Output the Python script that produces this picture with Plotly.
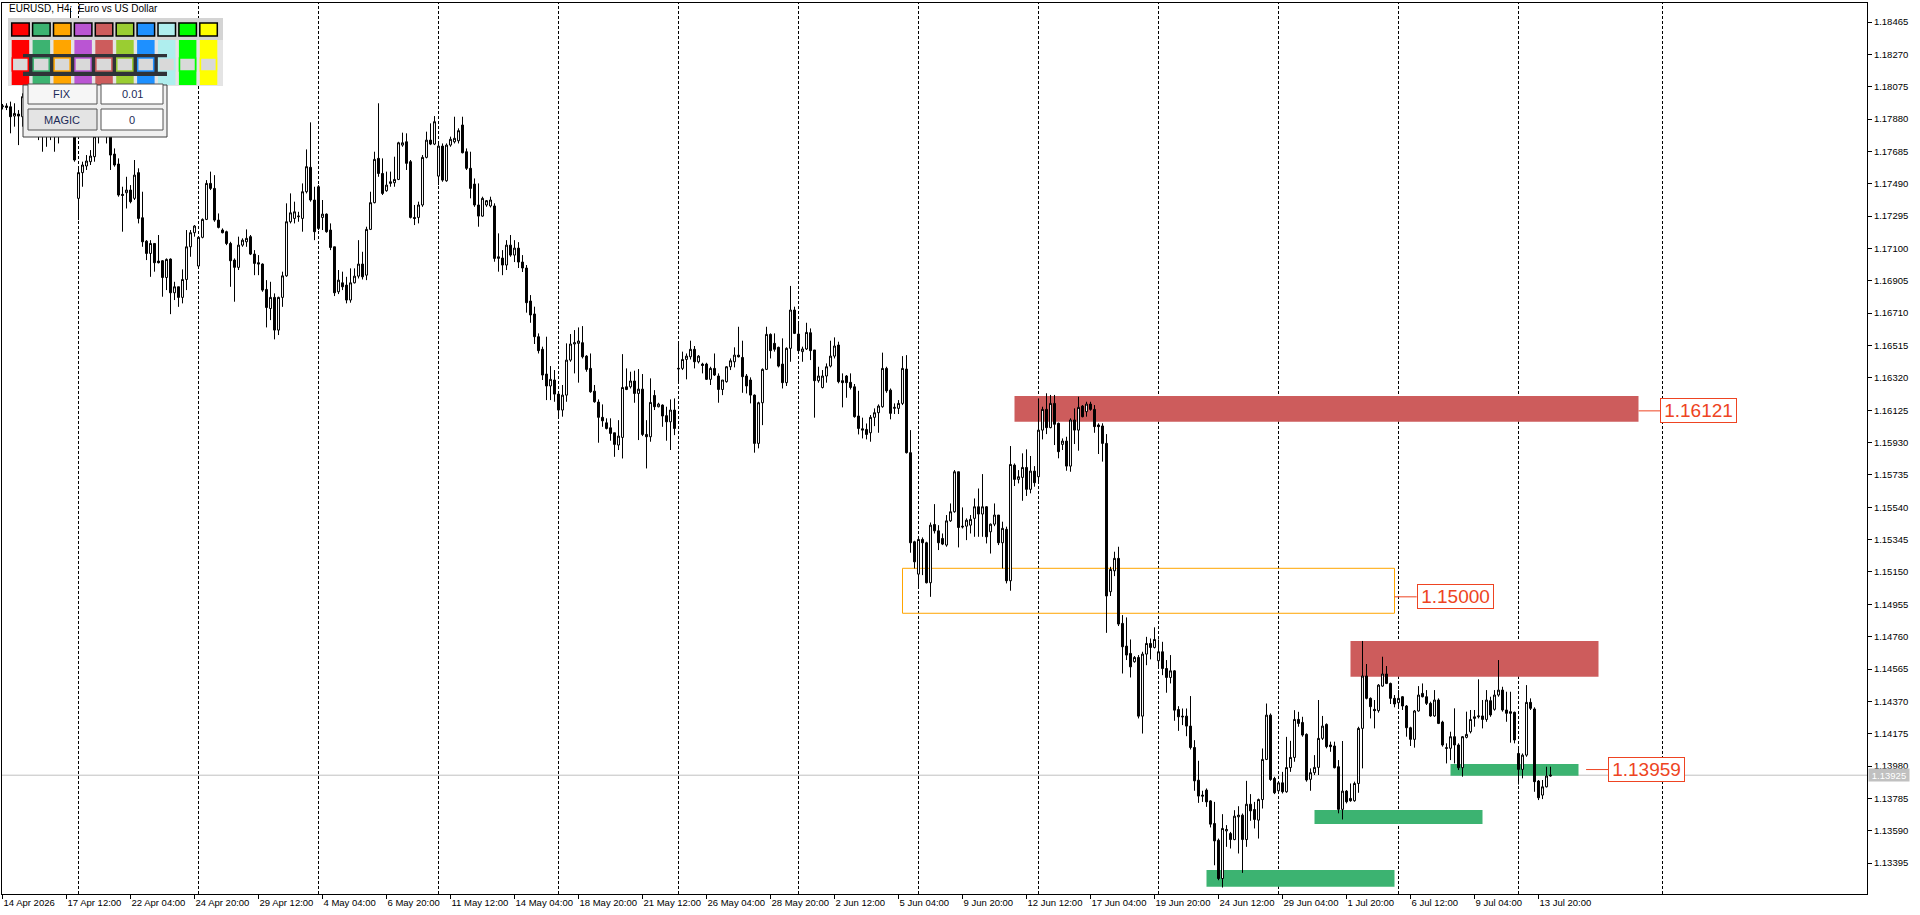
import plotly.graph_objects as go

# ---------------- data (EURUSD H4) ----------------
opens = [
 1.17954,1.17959,1.17954,1.17898,1.17910,1.17894,1.18015,1.18055,1.17954,1.17995,
 1.17874,1.17814,1.17934,1.18015,1.17854,1.17995,1.18115,1.18296,1.18417,1.17402,
 1.17557,1.17597,1.17623,1.17653,1.17774,1.17834,1.17864,1.17774,1.17669,1.17609,
 1.17426,1.17436,1.17452,1.17402,1.17557,1.17285,1.17144,1.17070,1.17130,1.17024,
 1.17026,1.16925,1.17036,1.16833,1.16869,1.16805,1.16913,1.17110,1.17195,1.16994,
 1.17167,1.17275,1.17492,1.17462,1.17271,1.17211,1.17201,1.17130,1.17030,1.16986,
 1.17120,1.17140,1.17171,1.17066,1.17014,1.17006,1.16853,1.16738,1.16805,1.16608,
 1.16805,1.16935,1.17261,1.17281,1.17291,1.17281,1.17442,1.17589,1.17392,1.17472,
 1.17287,1.17307,1.17211,1.17110,1.16839,1.16893,1.16879,1.16789,1.16893,1.16933,
 1.17006,1.16939,1.17215,1.17376,1.17643,1.17552,1.17448,1.17492,1.17496,1.17516,
 1.17723,1.17743,1.17623,1.17287,1.17287,1.17362,1.17649,1.17753,1.17729,1.17536,
 1.17717,1.17508,1.17723,1.17743,1.17749,1.17844,1.17683,1.17583,1.17488,1.17362,
 1.17295,1.17362,1.17356,1.17356,1.17040,1.17042,1.17000,1.17120,1.17060,1.17102,
 1.17018,1.16982,1.16783,1.16705,1.16568,1.16492,1.16343,1.16271,1.16307,1.16222,
 1.16126,1.16216,1.16427,1.16524,1.16528,1.16532,1.16451,1.16377,1.16240,1.16174,
 1.16082,1.16049,1.16019,1.15989,1.15915,1.15961,1.16266,1.16266,1.16301,1.16226,
 1.16252,1.15979,1.15965,1.16214,1.16146,1.16156,1.16092,1.16055,1.16126,1.16373,
 1.16377,1.16431,1.16447,1.16492,1.16417,1.16403,1.16403,1.16311,1.16377,1.16331,
 1.16250,1.16297,1.16387,1.16417,1.16457,1.16443,1.16331,1.16307,1.16216,1.15925,
 1.16170,1.16371,1.16582,1.16528,1.16504,1.16403,1.16291,1.16498,1.16729,1.16584,
 1.16478,1.16494,1.16592,1.16488,1.16303,1.16262,1.16331,1.16391,1.16451,1.16518,
 1.16303,1.16331,1.16293,1.16266,1.16090,1.16013,1.16009,1.15989,1.16082,1.16110,
 1.16146,1.16377,1.16246,1.16136,1.16136,1.16166,1.16373,1.15869,1.15332,1.15137,
 1.15346,1.15326,1.15085,1.15436,1.15398,1.15352,1.15312,1.15458,1.15513,1.15754,
 1.15426,1.15426,1.15432,1.15473,1.15543,1.15499,1.15543,1.15392,1.15438,1.15493,
 1.15326,1.15407,1.15097,1.15794,1.15708,1.15720,1.15780,1.15648,1.15758,1.15724,
 1.16005,1.16130,1.16020,1.16166,1.16046,1.15919,1.15939,1.15788,1.16066,1.16005,
 1.16150,1.16116,1.16162,1.16130,1.16036,1.16030,1.15925,1.15031,1.15157,1.15232,
 1.14840,1.14703,1.14659,1.14609,1.14635,1.14281,1.14655,1.14719,1.14695,1.14615,
 1.14669,1.14568,1.14514,1.14554,1.14321,1.14281,1.14281,1.14221,1.14092,1.13895,
 1.13805,1.13835,1.13770,1.13634,1.13533,1.13302,1.13589,1.13573,1.13537,1.13674,
 1.13684,1.13537,1.13750,1.13718,1.13654,1.13778,1.14020,1.14287,1.13905,1.13831,
 1.13879,1.13825,1.13971,1.14032,1.14261,1.14243,1.14171,1.13900,1.13940,1.13972,
 1.14147,1.14231,1.14107,1.14101,1.13976,1.13719,1.13829,1.13785,1.13771,1.13875,
 1.14207,1.14523,1.14388,1.14322,1.14314,1.14462,1.14535,1.14478,1.14388,1.14362,
 1.14398,1.14342,1.14211,1.14141,1.14312,1.14418,1.14398,1.14358,1.14282,1.14378,
 1.14245,1.14091,1.14087,1.14157,1.14107,1.13970,1.14153,1.14187,1.14267,1.14277,
 1.14282,1.14261,1.14374,1.14322,1.14408,1.14438,1.14318,1.14308,1.14304,1.14056,
 1.13960,1.14046,1.14364,1.14324,1.13890,1.13805,1.13855,1.13920]

highs = [
 1.17971,1.17975,1.17985,1.17975,1.17934,1.18035,1.18095,1.18135,1.18035,1.18115,
 1.18015,1.17975,1.18095,1.18135,1.18055,1.18176,1.18357,1.18550,1.18457,1.17593,
 1.17623,1.17663,1.17693,1.17794,1.17864,1.17894,1.17884,1.17794,1.17703,1.17643,
 1.17472,1.17532,1.17482,1.17633,1.17583,1.17442,1.17150,1.17150,1.17130,1.17181,
 1.17030,1.17040,1.17040,1.16899,1.16869,1.16974,1.17211,1.17211,1.17241,1.17171,
 1.17281,1.17512,1.17563,1.17542,1.17311,1.17221,1.17207,1.17140,1.17040,1.17171,
 1.17161,1.17215,1.17181,1.17090,1.17060,1.17010,1.16909,1.16899,1.16829,1.16809,
 1.16960,1.17372,1.17432,1.17382,1.17321,1.17492,1.17697,1.17860,1.17472,1.17482,
 1.17392,1.17311,1.17251,1.17110,1.16970,1.16960,1.16929,1.16980,1.16980,1.17150,
 1.17080,1.17231,1.17442,1.17683,1.17975,1.17643,1.17563,1.17563,1.17653,1.17743,
 1.17798,1.17794,1.17633,1.17362,1.17382,1.17663,1.17804,1.17854,1.17898,1.17733,
 1.17733,1.17733,1.17774,1.17894,1.17824,1.17894,1.17703,1.17683,1.17522,1.17492,
 1.17412,1.17392,1.17412,1.17372,1.17191,1.17090,1.17150,1.17181,1.17150,1.17138,
 1.17060,1.17000,1.16819,1.16749,1.16588,1.16508,1.16568,1.16391,1.16367,1.16236,
 1.16277,1.16528,1.16584,1.16608,1.16624,1.16632,1.16457,1.16467,1.16277,1.16190,
 1.16160,1.16076,1.16076,1.15989,1.16065,1.16463,1.16377,1.16357,1.16363,1.16373,
 1.16343,1.16065,1.16317,1.16246,1.16170,1.16160,1.16146,1.16190,1.16196,1.16524,
 1.16478,1.16467,1.16544,1.16512,1.16457,1.16411,1.16411,1.16387,1.16467,1.16347,
 1.16307,1.16391,1.16437,1.16504,1.16628,1.16544,1.16343,1.16323,1.16220,1.16176,
 1.16377,1.16628,1.16588,1.16588,1.16508,1.16558,1.16504,1.16874,1.16749,1.16648,
 1.16508,1.16652,1.16618,1.16488,1.16387,1.16367,1.16407,1.16544,1.16564,1.16538,
 1.16347,1.16337,1.16347,1.16283,1.16242,1.16080,1.16045,1.16096,1.16136,1.16160,
 1.16472,1.16387,1.16256,1.16166,1.16186,1.16451,1.16457,1.16005,1.15338,1.15362,
 1.15358,1.15332,1.15448,1.15559,1.15432,1.15382,1.15493,1.15563,1.15764,1.15754,
 1.15539,1.15473,1.15493,1.15593,1.15653,1.15740,1.15547,1.15442,1.15563,1.15493,
 1.15453,1.15423,1.15909,1.15804,1.15764,1.15865,1.15889,1.15849,1.15788,1.16196,
 1.16146,1.16227,1.16217,1.16217,1.16050,1.15955,1.15965,1.16076,1.16136,1.16206,
 1.16156,1.16176,1.16176,1.16156,1.16046,1.16046,1.15981,1.15181,1.15272,1.15302,
 1.14890,1.14876,1.14743,1.14643,1.14649,1.14669,1.14759,1.14749,1.14816,1.14743,
 1.14729,1.14619,1.14649,1.14558,1.14341,1.14327,1.14327,1.14402,1.14136,1.14012,
 1.13831,1.13845,1.13774,1.13764,1.13543,1.13690,1.13624,1.13583,1.13714,1.13738,
 1.13694,1.13891,1.13811,1.13764,1.13784,1.14086,1.14357,1.14297,1.13915,1.13885,
 1.13945,1.14156,1.14132,1.14317,1.14307,1.14277,1.14177,1.13966,1.14046,1.14378,
 1.14282,1.14237,1.14127,1.14127,1.14016,1.14131,1.13835,1.13875,1.13886,1.14217,
 1.14734,1.14595,1.14394,1.14378,1.14474,1.14639,1.14583,1.14483,1.14408,1.14438,
 1.14402,1.14348,1.14217,1.14318,1.14462,1.14478,1.14438,1.14368,1.14438,1.14388,
 1.14253,1.14117,1.14187,1.14328,1.14117,1.14161,1.14308,1.14318,1.14318,1.14503,
 1.14378,1.14438,1.14398,1.14438,1.14619,1.14458,1.14428,1.14428,1.14308,1.14097,
 1.14056,1.14468,1.14388,1.14334,1.13896,1.13896,1.13976,1.13976]

lows = [
 1.17938,1.17934,1.17794,1.17834,1.17723,1.17834,1.17934,1.17894,1.17814,1.17753,
 1.17683,1.17713,1.17753,1.17683,1.17733,1.17774,1.18015,1.18256,1.17623,1.17271,
 1.17472,1.17573,1.17603,1.17623,1.17733,1.17794,1.17733,1.17573,1.17593,1.17412,
 1.17201,1.17341,1.17372,1.17392,1.17251,1.17110,1.17030,1.16929,1.16960,1.17010,
 1.16809,1.16849,1.16704,1.16789,1.16748,1.16769,1.16849,1.17050,1.17171,1.16980,
 1.17161,1.17271,1.17452,1.17261,1.17221,1.17191,1.17120,1.16869,1.16779,1.16970,
 1.17110,1.17110,1.17060,1.16939,1.16939,1.16839,1.16624,1.16668,1.16552,1.16578,
 1.16748,1.16929,1.17251,1.17251,1.17261,1.17201,1.17432,1.17382,1.17150,1.17211,
 1.17211,1.17195,1.17090,1.16813,1.16825,1.16849,1.16769,1.16773,1.16889,1.16919,
 1.16913,1.16909,1.17211,1.17372,1.17532,1.17422,1.17442,1.17472,1.17472,1.17512,
 1.17713,1.17573,1.17281,1.17241,1.17251,1.17351,1.17643,1.17723,1.17723,1.17482,
 1.17502,1.17502,1.17713,1.17733,1.17733,1.17673,1.17573,1.17402,1.17351,1.17231,
 1.17291,1.17351,1.17347,1.17020,1.16960,1.16939,1.16970,1.17050,1.17018,1.16982,
 1.16958,1.16713,1.16652,1.16524,1.16467,1.16307,1.16186,1.16186,1.16176,1.16076,
 1.16086,1.16176,1.16417,1.16347,1.16291,1.16437,1.16357,1.16230,1.16170,1.15929,
 1.16025,1.16009,1.15941,1.15844,1.15885,1.15834,1.16246,1.16256,1.16170,1.15945,
 1.15969,1.15774,1.15935,1.16126,1.16142,1.16025,1.15941,1.15885,1.15975,1.16287,
 1.16367,1.16311,1.16431,1.16377,1.16407,1.16347,1.16307,1.16277,1.16331,1.16170,
 1.16216,1.16291,1.16367,1.16383,1.16443,1.16230,1.16226,1.16166,1.15869,1.15895,
 1.16035,1.16367,1.16437,1.16478,1.16383,1.16256,1.16271,1.16417,1.16584,1.16467,
 1.16417,1.16488,1.16427,1.16080,1.16291,1.16256,1.16291,1.16383,1.16437,1.16287,
 1.16142,1.16200,1.16250,1.16080,1.15979,1.15955,1.15949,1.15935,1.16029,1.15989,
 1.16140,1.16230,1.16070,1.16102,1.16102,1.16156,1.15864,1.15266,1.15171,1.15060,
 1.15131,1.15081,1.15000,1.15382,1.15282,1.15312,1.15302,1.15452,1.15507,1.15298,
 1.15412,1.15342,1.15382,1.15362,1.15362,1.15362,1.15322,1.15261,1.15426,1.15312,
 1.15171,1.15081,1.15037,1.15668,1.15684,1.15579,1.15608,1.15624,1.15664,1.15688,
 1.15949,1.15981,1.16016,1.15915,1.15835,1.15885,1.15760,1.15754,1.15921,1.15881,
 1.16082,1.16086,1.16122,1.15989,1.15861,1.15815,1.14783,1.15005,1.15125,1.14824,
 1.14538,1.14619,1.14514,1.14603,1.14267,1.14176,1.14588,1.14623,1.14689,1.14578,
 1.14528,1.14422,1.14478,1.14253,1.14192,1.14227,1.14160,1.14080,1.13831,1.13758,
 1.13764,1.13734,1.13610,1.13382,1.13292,1.13248,1.13493,1.13483,1.13533,1.13453,
 1.13336,1.13493,1.13650,1.13604,1.13543,1.13724,1.14016,1.13891,1.13811,1.13819,
 1.13815,1.13819,1.13945,1.14006,1.14217,1.14157,1.13886,1.13831,1.13926,1.13926,
 1.14137,1.14087,1.14066,1.13966,1.13695,1.13658,1.13755,1.13765,1.13765,1.13819,
 1.13966,1.14382,1.14267,1.14207,1.14302,1.14458,1.14474,1.14354,1.14334,1.14342,
 1.14318,1.14157,1.14101,1.14091,1.14308,1.14394,1.14348,1.14277,1.14277,1.14233,
 1.14097,1.13996,1.14016,1.13996,1.13956,1.13916,1.14147,1.14177,1.14217,1.14267,
 1.14207,1.14247,1.14277,1.14314,1.14398,1.14308,1.14247,1.14121,1.14117,1.13869,
 1.13906,1.14036,1.14318,1.13825,1.13775,1.13781,1.13851,1.13916]

closes = [
 1.17959,1.17950,1.17894,1.17914,1.17898,1.18015,1.18055,1.17954,1.17995,1.17874,
 1.17814,1.17934,1.18015,1.17854,1.17995,1.18115,1.18296,1.18417,1.17633,1.17557,
 1.17603,1.17627,1.17657,1.17774,1.17834,1.17864,1.17774,1.17663,1.17603,1.17422,
 1.17420,1.17452,1.17382,1.17542,1.17281,1.17140,1.17070,1.17130,1.17014,1.17014,
 1.16925,1.17034,1.16833,1.16869,1.16805,1.16913,1.17110,1.17195,1.17235,1.17167,
 1.17275,1.17492,1.17462,1.17271,1.17227,1.17195,1.17130,1.17026,1.16986,1.17120,
 1.17150,1.17161,1.17066,1.17010,1.17006,1.16849,1.16744,1.16805,1.16608,1.16805,
 1.16935,1.17261,1.17315,1.17321,1.17295,1.17442,1.17593,1.17392,1.17201,1.17221,
 1.17307,1.17201,1.17106,1.16833,1.16909,1.16869,1.16789,1.16893,1.16933,1.17006,
 1.16929,1.17215,1.17376,1.17637,1.17552,1.17432,1.17482,1.17502,1.17516,1.17737,
 1.17737,1.17613,1.17287,1.17281,1.17362,1.17649,1.17753,1.17729,1.17864,1.17717,
 1.17512,1.17723,1.17758,1.17764,1.17810,1.17677,1.17583,1.17462,1.17362,1.17295,
 1.17402,1.17388,1.17392,1.17040,1.17050,1.17000,1.17120,1.17060,1.17102,1.17018,
 1.16982,1.16773,1.16699,1.16568,1.16484,1.16337,1.16271,1.16311,1.16222,1.16126,
 1.16216,1.16427,1.16524,1.16532,1.16542,1.16447,1.16371,1.16236,1.16176,1.16082,
 1.16061,1.16015,1.15985,1.15919,1.15969,1.16262,1.16250,1.16301,1.16226,1.16252,
 1.15979,1.15965,1.16172,1.16146,1.16162,1.16090,1.16055,1.16126,1.16015,1.16377,
 1.16431,1.16451,1.16492,1.16417,1.16451,1.16395,1.16311,1.16377,1.16337,1.16250,
 1.16307,1.16387,1.16423,1.16457,1.16447,1.16327,1.16271,1.16216,1.15925,1.16170,
 1.16371,1.16582,1.16484,1.16492,1.16391,1.16291,1.16498,1.16729,1.16588,1.16484,
 1.16494,1.16594,1.16484,1.16303,1.16331,1.16331,1.16387,1.16451,1.16512,1.16297,
 1.16291,1.16291,1.16262,1.16086,1.16015,1.16005,1.15979,1.16082,1.16110,1.16150,
 1.16377,1.16242,1.16106,1.16142,1.16166,1.16377,1.15869,1.15326,1.15211,1.15346,
 1.15326,1.15085,1.15432,1.15398,1.15326,1.15318,1.15458,1.15513,1.15754,1.15418,
 1.15422,1.15462,1.15467,1.15543,1.15499,1.15543,1.15362,1.15438,1.15493,1.15326,
 1.15413,1.15097,1.15798,1.15708,1.15724,1.15780,1.15648,1.15758,1.15688,1.16005,
 1.16130,1.16020,1.16166,1.16040,1.15875,1.15939,1.15788,1.16066,1.16005,1.16142,
 1.16086,1.16162,1.16130,1.16026,1.16026,1.15925,1.15005,1.15165,1.15232,1.14836,
 1.14699,1.14649,1.14578,1.14635,1.14281,1.14655,1.14719,1.14695,1.14743,1.14669,
 1.14568,1.14514,1.14554,1.14317,1.14277,1.14277,1.14221,1.14092,1.13891,1.13799,
 1.13799,1.13764,1.13630,1.13529,1.13302,1.13604,1.13598,1.13537,1.13678,1.13684,
 1.13537,1.13750,1.13710,1.13658,1.13778,1.14020,1.14287,1.13899,1.13819,1.13879,
 1.13825,1.13971,1.14032,1.14261,1.14237,1.14167,1.13896,1.13940,1.13972,1.14147,
 1.14221,1.14097,1.14097,1.13970,1.13719,1.13829,1.13765,1.13771,1.13875,1.14207,
 1.14523,1.14388,1.14338,1.14314,1.14468,1.14535,1.14478,1.14388,1.14354,1.14388,
 1.14342,1.14211,1.14141,1.14312,1.14408,1.14398,1.14358,1.14282,1.14378,1.14237,
 1.14107,1.14087,1.14157,1.14107,1.13970,1.14157,1.14171,1.14261,1.14277,1.14282,
 1.14261,1.14378,1.14288,1.14408,1.14438,1.14318,1.14298,1.14298,1.14137,1.13960,
 1.14046,1.14364,1.14328,1.13886,1.13789,1.13855,1.13920,1.13925]

time_labels = ["14 Apr 2026", "17 Apr 12:00", "22 Apr 04:00", "24 Apr 20:00", "29 Apr 12:00",
               "4 May 04:00", "6 May 20:00", "11 May 12:00", "14 May 04:00", "18 May 20:00",
               "21 May 12:00", "26 May 04:00", "28 May 20:00", "2 Jun 12:00", "5 Jun 04:00",
               "9 Jun 20:00", "12 Jun 12:00", "17 Jun 04:00", "19 Jun 20:00", "24 Jun 12:00",
               "29 Jun 04:00", "1 Jul 20:00", "6 Jul 12:00", "9 Jul 04:00", "13 Jul 20:00"]
bars_per_label = 16

price_ticks = [1.18465, 1.18270, 1.18075, 1.17880, 1.17685, 1.17490, 1.17295, 1.17100, 1.16905,
               1.16710, 1.16515, 1.16320, 1.16125, 1.15930, 1.15735, 1.15540, 1.15345, 1.15150,
               1.14955, 1.14760, 1.14565, 1.14370, 1.14175, 1.13980, 1.13785, 1.13590, 1.13395]

week_start_bars = [19, 49, 79, 109, 139, 169, 199, 229, 259, 289, 319, 349, 379, 415]

# zones: start bar, end bar, top price, bottom price, kind
zone_start = [253, 225, 337, 362, 328, 301]
zone_end = [409, 348, 399, 394, 370, 348]
zone_top = [1.16211, 1.15172, 1.14734, 1.13992, 1.13715, 1.13354]
zone_bottom = [1.16056, 1.14901, 1.14519, 1.13922, 1.13631, 1.13253]
zone_kind = ["supply", "level", "supply", "demand", "demand", "demand"]

level_prices = [1.16121, 1.15000, 1.13959]
level_line_start = [409, 348, 395.9]
level_label_bar = [414.4, 353.55, 401.45]

bid_price = 1.13925

panel_colors = ["#FF0000", "#3CB371", "#FFA500", "#BA55D3", "#CD5C5C",
                "#9ACD32", "#1E90FF", "#AFEEEE", "#00FF00", "#FFFF00"]

# ---------------- figure ----------------
FIG_W, FIG_H = 1920, 915
ML, MR, MT, MB = 2, 53, 3, 21
PW, PH = FIG_W - ML - MR, FIG_H - MT - MB
X_RANGE = [-0.125, -0.125 + PW / 4.0]
Y_RANGE = [1.1320882, 1.1857953]

def pxx(v):
    return (v - ML) / PW

def pxy(v):
    return 1 - (v - MT) / PH

bars = list(range(len(opens)))

fig = go.Figure()
fig.add_trace(go.Candlestick(
    x=bars, open=opens, high=highs, low=lows, close=closes,
    increasing=dict(line=dict(color="black", width=1), fillcolor="white"),
    decreasing=dict(line=dict(color="black", width=1), fillcolor="black"),
    whiskerwidth=0, hoverinfo="skip", showlegend=False))

shapes = []
zone_fill = {"supply": "#CD5C5C", "demand": "#3CB371"}
for x0, x1, t, b, k in zip(zone_start, zone_end, zone_top, zone_bottom, zone_kind):
    if k == "level":
        shapes.append(dict(type="rect", xref="x", yref="y", x0=x0, x1=x1, y0=b, y1=t,
                           line=dict(color="#FFA500", width=1), fillcolor="rgba(0,0,0,0)",
                           layer="below"))
    else:
        shapes.append(dict(type="rect", xref="x", yref="y", x0=x0, x1=x1, y0=b, y1=t,
                           line=dict(width=0), fillcolor=zone_fill[k], layer="below"))

for wb in week_start_bars:
    shapes.append(dict(type="line", xref="x", yref="paper", x0=wb, x1=wb, y0=0, y1=1,
                       line=dict(color="black", width=1, dash="3px,2px"), layer="below"))

shapes.append(dict(type="line", xref="paper", yref="y", x0=0, x1=1, y0=bid_price, y1=bid_price,
                   line=dict(color="#C0C0C0", width=1), layer="below"))

LABEL_RED = "#EE4422"
annotations = []
for p, xs, xl in zip(level_prices, level_line_start, level_label_bar):
    shapes.append(dict(type="line", xref="x", yref="y", x0=xs, x1=xl, y0=p, y1=p,
                       line=dict(color=LABEL_RED, width=1), layer="above"))
    annotations.append(dict(xref="x", yref="y", x=xl, y=p, xanchor="left", yanchor="middle",
                            text=f"{p:.5f}", showarrow=False,
                            font=dict(family="Liberation Sans", size=19, color=LABEL_RED),
                            bgcolor="white", bordercolor=LABEL_RED, borderwidth=1,
                            borderpad=0, width=75, height=23, align="center"))

# bid label on price axis
annotations.append(dict(xref="paper", yref="y", x=pxx(1868), y=bid_price, xanchor="left",
                        yanchor="middle", text=f"{bid_price:.5f}", showarrow=False,
                        font=dict(family="Liberation Sans", size=9.5, color="white"),
                        bgcolor="#C0C0C0", borderpad=1, width=38, height=10))

# title
annotations.append(dict(xref="paper", yref="paper", x=pxx(7), y=pxy(9), xanchor="left",
                        yanchor="middle", text="EURUSD, H4: \u00a0Euro vs US Dollar",
                        showarrow=False,
                        font=dict(family="Liberation Sans", size=10, color="black")))

def prect(x0, y0, x1, y1, fill, line=None, lw=0):
    shapes.append(dict(type="rect", xref="paper", yref="paper",
                       x0=pxx(x0), x1=pxx(x1), y0=pxy(y1), y1=pxy(y0),
                       fillcolor=fill, line=dict(color=line if line else fill, width=lw),
                       layer="above"))

# trading panel (top-left)
prect(8, 18, 223, 40, "#D4D4D4")
prect(8, 40, 223, 86, "#E4E4E4")
for k, c in enumerate(panel_colors):
    x0 = 11.7 + 20.9 * k
    prect(x0, 23, x0 + 17.5, 36, c, "black", 1.5)
    prect(x0, 40, x0 + 17.5, 85, c)
prect(23, 54, 167, 76, "#2F3338")
for k, c in enumerate(panel_colors):
    x0 = 12.3 + 20.9 * k
    prect(x0, 58, x0 + 16, 71, "#D9D9D9", c, 1.5)
prect(23, 85, 167, 137, "#F0F0F0", "#404040", 1)
buttons = [(28, 84, 97, 104, "#F6F6F6", "FIX"), (101, 84, 163, 104, "white", "0.01"),
           (28, 109, 97, 130, "#E4E4E4", "MAGIC"), (101, 109, 163, 130, "white", "0")]
for x0, y0, x1, y1, fill, txt in buttons:
    prect(x0, y0, x1, y1, fill, "#555555", 1)
    annotations.append(dict(xref="paper", yref="paper", x=pxx((x0 + x1) / 2), y=pxy((y0 + y1) / 2),
                            xanchor="center", yanchor="middle", text=txt, showarrow=False,
                            font=dict(family="Liberation Sans", size=11, color="#1B2A57")))

tick_font = dict(family="Liberation Sans", size=9.5, color="black")
fig.update_layout(
    width=FIG_W, height=FIG_H,
    margin=dict(l=ML, r=MR, t=MT, b=MB, autoexpand=False),
    paper_bgcolor="white", plot_bgcolor="white", showlegend=False,
    boxgap=0.3, boxgroupgap=0.3,
    shapes=shapes, annotations=annotations,
    xaxis=dict(range=X_RANGE, tickmode="array",
               tickvals=[i * bars_per_label for i in range(len(time_labels))],
               ticktext=time_labels, ticks="outside", ticklen=4, tickcolor="black",
               tickangle=0, ticklabelposition="outside right", tickfont=tick_font,
               showline=True, linecolor="black", linewidth=1, mirror=True,
               showgrid=False, zeroline=False, rangeslider=dict(visible=False),
               automargin=False, fixedrange=True),
    yaxis=dict(range=Y_RANGE, side="right", tickmode="array", tickvals=price_ticks,
               ticktext=[f"{v:.5f}" for v in price_ticks], ticks="outside", ticklen=4,
               tickcolor="black", tickfont=tick_font,
               showline=True, linecolor="black", linewidth=1, mirror=True,
               showgrid=False, zeroline=False, automargin=False, fixedrange=True),
)

fig.write_html("out.html", config={"displayModeBar": False},
               post_script="document.body.style.margin='0';document.body.style.overflow='hidden';")
